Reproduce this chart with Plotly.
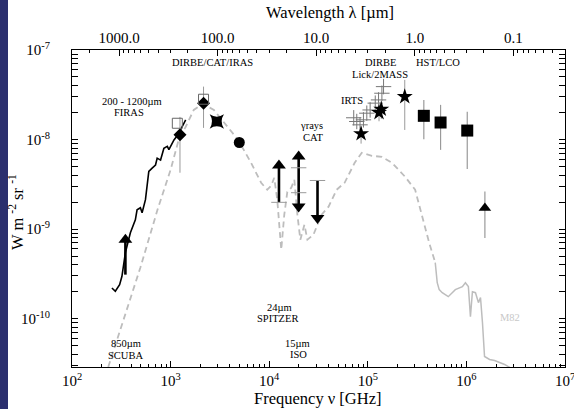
import numpy as np
import plotly.graph_objects as go

# ---------------- data (frequency GHz, intensity W m^-2 sr^-1) ----------------
firas_nu = [254, 275, 304, 321, 348, 391, 439, 457, 494, 514, 556, 601, 650, 703, 731, 791, 855, 926, 961, 1082, 1187, 1315, 1422]
firas_f = [2.2e-10, 2.02e-10, 2.4e-10, 2.97e-10, 5.46e-10, 9.1e-10, 1.27e-9, 1.64e-9, 1.73e-9, 1.52e-9, 2.13e-9, 4.4e-9, 4.8e-9, 5.2e-9, 6.2e-9, 5.9e-9, 8.0e-9, 8.4e-9, 7.7e-9, 9.9e-9, 1.13e-8, 1.40e-8, 1.66e-8]

model_nu = [217, 331, 494, 736, 1000, 1207, 1423, 1717, 2123, 2750, 3817, 4831, 6548, 8285, 9550,
            1.047e4, 1.125e4, 1.207e4, 1.325e4, 1.422e4, 1.527e4, 1.675e4, 1.799e4, 1.931e4, 2.07e4,
            2.275e4, 2.44e4, 2.81e4, 3.40e4, 4.0e4, 4.83e4, 5.82e4, 7.36e4, 8.69e4, 1.099e5, 1.39e5,
            1.758e5, 2.39e5, 3.02e5, 3.56e5, 4.19e5, 4.83e5]
model_f = [2.26e-11, 9.77e-11, 3.72e-10, 1.64e-9, 4.59e-9, 9.93e-9, 1.39e-8, 2.14e-8, 2.50e-8, 2.14e-8, 1.39e-8, 9.93e-9, 5.50e-9, 3.29e-9, 2.75e-9,
           3.05e-9, 3.74e-9, 2.13e-9, 5.89e-10, 1.45e-9, 2.61e-9, 2.90e-9, 3.56e-9, 1.45e-9, 7.62e-10,
           1.12e-9, 7.62e-10, 8.67e-10, 1.45e-9, 1.78e-9, 2.75e-9, 3.29e-9, 5.50e-9, 7.11e-9, 6.58e-9, 6.41e-9,
           5.50e-9, 3.84e-9, 2.75e-9, 1.37e-9, 7.05e-10, 4.22e-10]

m82_nu = [4.83e5, 5.06e5, 5.30e5, 5.69e5, 6.55e5, 7.72e5, 9.1e5, 9.77e5, 1.047e6, 1.099e6, 1.151e6, 1.236e6,
          1.325e6, 1.39e6, 1.455e6, 1.527e6, 1.718e6, 1.932e6, 2.17e6, 2.44e6, 2.75e6]
m82_f = [4.22e-10, 2.52e-10, 2.11e-10, 1.95e-10, 1.76e-10, 2.11e-10, 2.28e-10, 2.52e-10, 2.28e-10, 1.05e-10, 2.0e-10, 1.95e-10,
         1.51e-10, 1.72e-10, 9.05e-11, 3.78e-11, 3.50e-11, 3.41e-11, 3.24e-11, 3.08e-11, 2.85e-11]

dirbe_sq_nu = [1170, 2158]
dirbe_sq_f = [1.52e-8, 2.82e-8]
diam_nu = [1245, 2158]
diam_f = [1.13e-8, 2.55e-8]
diam_lo = [4.26e-9, 1.35e-8]
diam_hi = [1.79e-8, 3.9e-8]

xstar_nu = [2943]
xstar_f = [1.59e-8]
circ_nu = [4976]
circ_f = [9.27e-9]

irts_nu = [7.2e4, 7.73e4, 8.34e4, 9.03e4, 9.77e4, 1.056e5, 1.19e5, 1.285e5, 1.39e5, 1.445e5]
irts_f = [1.75e-8, 1.59e-8, 1.46e-8, 1.66e-8, 1.97e-8, 2.14e-8, 2.55e-8, 2.77e-8, 3.29e-8, 3.9e-8]

star_nu = [8.55e4, 1.30e5, 1.37e5, 2.37e5]
star_f = [1.16e-8, 2.0e-8, 2.18e-8, 3.01e-8]
star_lo = [9.0e-9, 1.6e-8, 1.7e-8, 1.28e-8]
star_hi = [1.4e-8, 2.6e-8, 2.7e-8, 4.64e-8]

hst_nu = [3.7e5, 5.47e5, 1.02e6]
hst_f = [1.84e-8, 1.55e-8, 1.26e-8]
hst_lo = [1.01e-8, 7.67e-9, 4.68e-9]
hst_hi = [2.77e-8, 2.44e-8, 2.05e-8]

uv_nu = [1.54e6]
uv_f = [1.72e-9]
uv_lo = [7.96e-10]
uv_hi = [2.63e-9]

# arrows: frequency, shaft start, tip(s)
up_nu = [348, 1.256e4]
up_base = [3.1e-10, 1.99e-9]
up_tip = [8.67e-10, 5.83e-9]
dbl_nu = [1.99e4]
dbl_lo = [1.57e-9]
dbl_hi = [7.35e-9]
down_nu = [3.09e4]
down_base = [3.49e-9]
down_tip = [1.17e-9]
cap_nu = [1.256e4, 1.99e4, 1.99e4, 3.09e4]
cap_f = [1.99e-9, 4.84e-9, 2.55e-9, 3.49e-9]

top_ticks = [1000, 100, 10, 1, 0.1]
top_labels = ["1000.0", "100.0", "10.0", "1.0", "0.1"]
x_ticks = [1e2, 1e3, 1e4, 1e5, 1e6, 1e7]
x_labels = ["10<sup>2</sup>", "10<sup>3</sup>", "10<sup>4</sup>", "10<sup>5</sup>", "10<sup>6</sup>", "10<sup>7</sup>"]
y_ticks = [1e-10, 1e-9, 1e-8, 1e-7]
y_labels = ["10<sup>-10</sup>", "10<sup>-9</sup>", "10<sup>-8</sup>", "10<sup>-7</sup>"]

FONT = "Liberation Serif"
GREY = "#9a9a9a"
LGREY = "#bdbdbd"

fig = go.Figure()

def errs(f, lo, hi):
    return [h - v for v, h in zip(f, hi)], [v - l for v, l in zip(f, lo)]

# model dashed + M82 solid
fig.add_trace(go.Scatter(x=model_nu, y=model_f, mode="lines",
                         line=dict(color=LGREY, width=1.8, dash="6px,4px"), hoverinfo="skip"))
fig.add_trace(go.Scatter(x=m82_nu, y=m82_f, mode="lines",
                         line=dict(color=LGREY, width=1.5), hoverinfo="skip"))
# FIRAS
fig.add_trace(go.Scatter(x=firas_nu, y=firas_f, mode="lines",
                         line=dict(color="black", width=1.6), hoverinfo="skip"))

# DIRBE diamonds with error bars
ep, em = errs(diam_f, diam_lo, diam_hi)
fig.add_trace(go.Scatter(x=diam_nu, y=diam_f, mode="markers",
                         marker=dict(symbol="diamond", size=10, color="black"),
                         error_y=dict(type="data", array=ep, arrayminus=em, color=GREY, thickness=1, width=0)))
fig.add_trace(go.Scatter(x=dirbe_sq_nu, y=dirbe_sq_f, mode="markers",
                         marker=dict(symbol="square-open", size=10, color="#666", line=dict(width=1))))
fig.add_trace(go.Scatter(x=xstar_nu, y=xstar_f, mode="markers",
                         marker=dict(symbol="star-square", size=13, color="black")))
fig.add_trace(go.Scatter(x=circ_nu, y=circ_f, mode="markers",
                         marker=dict(symbol="circle", size=11, color="black")))

# IRTS
fig.add_trace(go.Scatter(x=irts_nu, y=irts_f, mode="markers",
                         marker=dict(symbol="cross-thin", size=11, color="#777",
                                     line=dict(color="#777", width=1))))
# stars
ep, em = errs(star_f, star_lo, star_hi)
fig.add_trace(go.Scatter(x=star_nu, y=star_f, mode="markers",
                         marker=dict(symbol="star", size=12, color="black"),
                         error_y=dict(type="data", array=ep, arrayminus=em, color=GREY, thickness=1, width=0)))
# HST/LCO squares
ep, em = errs(hst_f, hst_lo, hst_hi)
fig.add_trace(go.Scatter(x=hst_nu, y=hst_f, mode="markers",
                         marker=dict(symbol="square", size=12, color="black"),
                         error_y=dict(type="data", array=ep, arrayminus=em, color=GREY, thickness=1.2, width=0)))
# UV triangle
ep, em = errs(uv_f, uv_lo, uv_hi)
fig.add_trace(go.Scatter(x=uv_nu, y=uv_f, mode="markers",
                         marker=dict(symbol="triangle-up", size=11, color="black"),
                         error_y=dict(type="data", array=ep, arrayminus=em, color=GREY, thickness=1.2, width=0)))

# arrows
HEAD = 10 ** (5 / 89.7)
for nu, b, t in zip(up_nu, up_base, up_tip):
    fig.add_trace(go.Scatter(x=[nu, nu], y=[b, t / HEAD], mode="lines",
                             line=dict(color="black", width=2.6)))
    fig.add_trace(go.Scatter(x=[nu], y=[t / HEAD], mode="markers",
                             marker=dict(symbol="triangle-up", size=12, color="black")))
for nu, lo, hi in zip(dbl_nu, dbl_lo, dbl_hi):
    fig.add_trace(go.Scatter(x=[nu, nu], y=[lo * HEAD, hi / HEAD], mode="lines",
                             line=dict(color="black", width=2.6)))
    fig.add_trace(go.Scatter(x=[nu, nu], y=[lo * HEAD, hi / HEAD], mode="markers",
                             marker=dict(symbol=["triangle-down", "triangle-up"], size=12, color="black")))
for nu, b, t in zip(down_nu, down_base, down_tip):
    fig.add_trace(go.Scatter(x=[nu, nu], y=[b, t * HEAD], mode="lines",
                             line=dict(color="black", width=2.6)))
    fig.add_trace(go.Scatter(x=[nu], y=[t * HEAD], mode="markers",
                             marker=dict(symbol="triangle-down", size=12, color="black")))
fig.add_trace(go.Scatter(x=cap_nu, y=cap_f, mode="markers",
                         marker=dict(symbol="line-ew", size=11, color=GREY, line=dict(color=GREY, width=1))))

# dummy trace for top axis
fig.add_trace(go.Scatter(x=[1000], y=[1e-9], xaxis="x2", mode="markers",
                         marker=dict(opacity=0), hoverinfo="skip"))

xminor = [m * 10 ** e for e in range(2, 7) for m in range(2, 10)]
yminor = [m * 10.0 ** e for e in range(-11, -7) for m in range(2, 10)]
x2minor = [m * 10.0 ** e for e in range(-2, 4) for m in range(2, 10)]

L, R, T, B = 72, 9, 50, 42
W, H = 574, 409
PW, PH = W - L - R, H - T - B

axfont = dict(family=FONT, size=15, color="black")
fig.update_layout(
    width=W, height=H,
    margin=dict(l=L, r=R, t=T, b=B),
    paper_bgcolor="white", plot_bgcolor="white",
    showlegend=False,
    font=dict(family=FONT, color="black"),
    xaxis=dict(type="log", range=[2, 7], showgrid=False, zeroline=False, automargin=False,
               ticklabeloverflow="allow",
               showline=True, linecolor="black", linewidth=1.2, mirror=False,
               ticks="inside", ticklen=6, tickcolor="black",
               tickvals=x_ticks, ticktext=x_labels, tickfont=axfont,
               minor=dict(tickvals=xminor, ticks="inside", ticklen=3, tickcolor="black", showgrid=False)),
    xaxis2=dict(type="log", range=[np.log10(3000), np.log10(0.03)], overlaying="x", side="top",
                automargin=False, ticklabeloverflow="allow",
                showgrid=False, zeroline=False, showline=True, linecolor="black", linewidth=1.2,
                ticks="inside", ticklen=6, tickcolor="black",
                tickvals=top_ticks, ticktext=top_labels, tickfont=axfont,
                minor=dict(tickvals=x2minor, ticks="inside", ticklen=3, tickcolor="black", showgrid=False)),
    yaxis=dict(type="log", range=[-10.54, -7], showgrid=False, zeroline=False, automargin=False,
               ticklabeloverflow="allow", ticklabelstandoff=18,
               showline=True, linecolor="black", linewidth=1.2, mirror="allticks",
               ticks="inside", ticklen=6, tickcolor="black",
               tickvals=y_ticks, ticktext=y_labels, tickfont=axfont,
               minor=dict(tickvals=yminor, ticks="inside", ticklen=3, tickcolor="black", showgrid=False)),
)

def px(x, y):
    return (x - L) / PW, (H - B - y) / PH

# axis titles
for t, x, y, ang in [("Wavelength λ [µm]", 330, 12, 0), ("Frequency ν [GHz]", 318, 398, 0),
                     ("W m <sup>-2</sup> sr <sup>-1</sup>", 17, 212, -90)]:
    xx, yy = px(x, y)
    fig.add_annotation(text=t, x=xx, y=yy, xref="paper", yref="paper", showarrow=False, textangle=ang,
                       font=dict(family=FONT, size=16.5, color="black"), xanchor="center", yanchor="middle")

labels = [
    ("200 - 1200µm", 132, 101, "black"), ("FIRAS", 129, 112, "black"),
    ("DIRBE/CAT/IRAS", 212, 63, "black"),
    ("DIRBE", 381, 63, "black"), ("Lick/2MASS", 380, 75, "black"),
    ("HST/LCO", 438, 63, "black"), ("IRTS", 352, 100, "black"),
    ("γrays", 311, 126, "black"), ("CAT", 313, 137, "black"),
    ("850µm", 126, 343, "black"), ("SCUBA", 125, 355, "black"),
    ("24µm", 279, 307, "black"), ("SPITZER", 277, 318, "black"),
    ("15µm", 297, 343, "black"), ("ISO", 298, 354, "black"),
    ("M82", 510, 317, "#c8c8c8"),
]
for t, x, y, c in labels:
    xx, yy = px(x, y)
    fig.add_annotation(text=t, x=xx, y=yy, xref="paper", yref="paper", showarrow=False,
                       font=dict(family=FONT, size=10.5, color=c), xanchor="center", yanchor="middle")

# dark left border of the slide
fig.add_shape(type="rect", xref="paper", yref="paper", x0=-L / PW, x1=(8 - L) / PW,
              y0=-B / PH, y1=(PH + T) / PH, fillcolor="#2b2f6e", line=dict(width=0), layer="below")

fig.write_html("out.html")
